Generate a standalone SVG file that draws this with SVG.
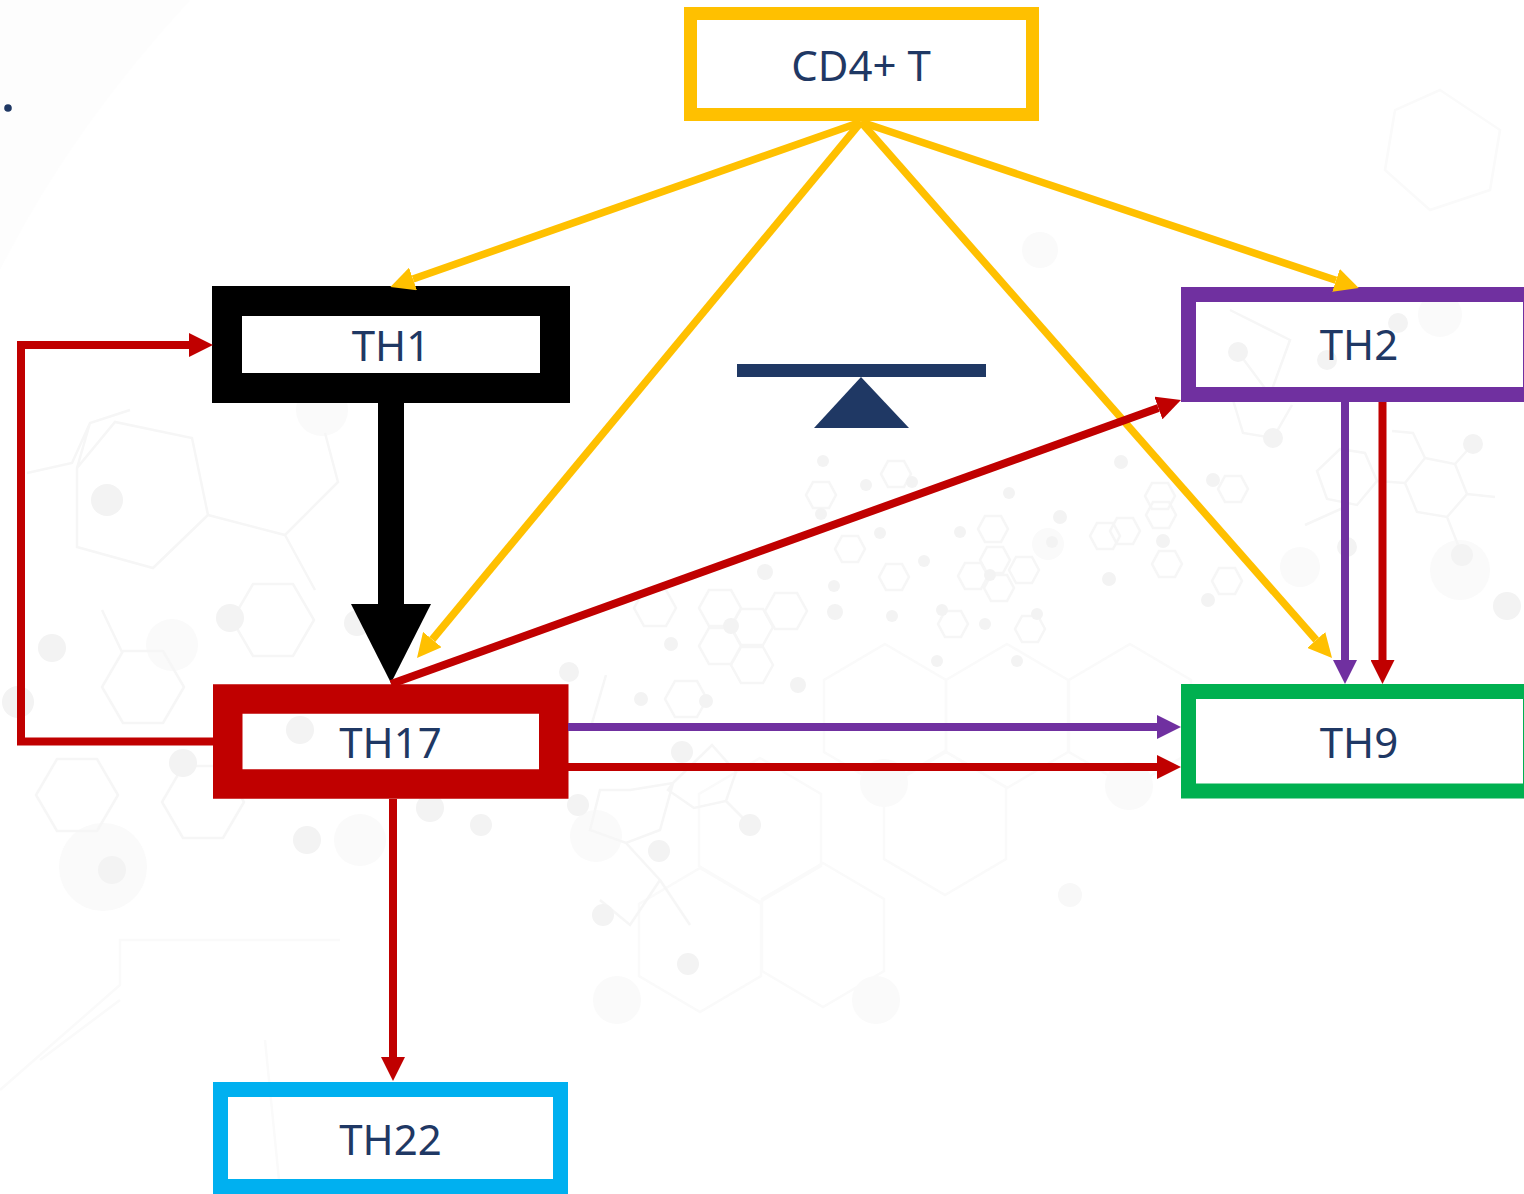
<svg xmlns="http://www.w3.org/2000/svg" width="1524" height="1194" viewBox="0 0 1524 1194">
<style>
.wl{fill:none;stroke:#f6f6f6;stroke-width:2.5}
.wf{fill:none;stroke:#fafafa;stroke-width:2.5}
.wc{fill:#f3f3f3}
.wb{fill:#fafafa}
.box{fill:none}
.t{font-family:"Noto Sans","Open Sans",sans-serif;font-size:42px;fill:#1F3864;text-anchor:middle}
.c{fill:none;stroke-width:8}
.y{stroke:#FFC000;stroke-width:7.500;marker-end:url(#hy)}
.r{stroke:#C00000;marker-end:url(#hr)}
.p{stroke:#7030A0;marker-end:url(#hp)}
</style>
<defs>
<polygon id="hexL" points="41,0 20,36 -20,36 -41,0 -20,-36 20,-36"/>
<polygon id="hexM" points="21,0 11,18 -11,18 -21,0 -11,-18 11,-18"/>
<polygon id="hexS" points="15,0 8,13 -8,13 -15,0 -8,-13 8,-13"/>
<polygon id="hexB" points="0,-72 61,-36 61,36 0,72 -61,36 -61,-36"/>
<marker id="hy" markerUnits="userSpaceOnUse" markerWidth="24" markerHeight="24" refX="0" refY="12" orient="auto"><path d="M0,0L24,12L0,24z" fill="#FFC000"/></marker>
<marker id="hr" markerUnits="userSpaceOnUse" markerWidth="24" markerHeight="24" refX="0" refY="12" orient="auto"><path d="M0,0L24,12L0,24z" fill="#C00000"/></marker>
<marker id="hp" markerUnits="userSpaceOnUse" markerWidth="24" markerHeight="24" refX="0" refY="12" orient="auto"><path d="M0,0L24,12L0,24z" fill="#7030A0"/></marker>
<marker id="hk" markerUnits="userSpaceOnUse" markerWidth="80" markerHeight="80" refX="0" refY="40" orient="auto"><path d="M0,0L79,40L0,80z" fill="#000"/></marker>
</defs>
<rect width="1524" height="1194" fill="#fff"/>
<g id="watermark">
<path d="M0,0H190Q70,130 0,270z" fill="#fdfdfd"/>
<g class="wb">
<circle cx="103" cy="867" r="44"/><circle cx="172" cy="645" r="26"/><circle cx="360" cy="840" r="26"/><circle cx="322" cy="410" r="26"/><circle cx="596" cy="836" r="26"/><circle cx="884" cy="783" r="24"/><circle cx="1129" cy="786" r="24"/><circle cx="617" cy="1000" r="24"/><circle cx="876" cy="1000" r="24"/><circle cx="1048" cy="544" r="16"/><circle cx="1300" cy="567" r="20"/><circle cx="1460" cy="570" r="30"/><circle cx="1040" cy="250" r="18"/><circle cx="1440" cy="315" r="22"/>
</g>
<g class="wf">
<use href="#hexB" x="885" y="716"/><use href="#hexB" x="1007" y="716"/><use href="#hexB" x="945" y="823"/><use href="#hexB" x="760" y="830"/><use href="#hexB" x="823" y="935"/><use href="#hexB" x="700" y="940"/><use href="#hexB" x="1130" y="716"/>
<path d="M0,1090L120,985L120,940L340,940M40,1060L120,1000M265,1040L280,1190M1440,90L1500,130L1490,190L1430,210L1385,170L1395,110z"/>
</g>
<g class="wl">
<use href="#hexL" x="143" y="687"/><use href="#hexL" x="77" y="795"/><use href="#hexL" x="203" y="802"/><use href="#hexL" x="273" y="620"/>
<use href="#hexM" x="720" y="608"/><use href="#hexM" x="752" y="627"/><use href="#hexM" x="786" y="611"/><use href="#hexM" x="720" y="646"/><use href="#hexM" x="752" y="665"/><use href="#hexM" x="655" y="608"/><use href="#hexM" x="686" y="699"/>
<use href="#hexS" x="821" y="495"/><use href="#hexS" x="896" y="474"/><use href="#hexS" x="850" y="549"/><use href="#hexS" x="894" y="577"/><use href="#hexS" x="993" y="529"/><use href="#hexS" x="995" y="560"/><use href="#hexS" x="973" y="576"/><use href="#hexS" x="1024" y="570"/><use href="#hexS" x="999" y="588"/><use href="#hexS" x="953" y="624"/><use href="#hexS" x="1030" y="629"/><use href="#hexS" x="1105" y="536"/><use href="#hexS" x="1161" y="515"/><use href="#hexS" x="1160" y="496"/><use href="#hexS" x="1125" y="531"/><use href="#hexS" x="1167" y="564"/><use href="#hexS" x="1233" y="489"/><use href="#hexS" x="1227" y="581"/>
<path d="M77,547L153,568L208,515L192,438L115,422L77,468zM208,515L285,535L338,482L325,433M27,473L72,463L90,423L130,410M77,468L90,423M102,610L122,652M285,535L315,590"/>
<path d="M673,783L712,745L736,772L726,801L694,808L668,790zM630,790L673,783L660,830L626,843L590,830L600,790zM626,843L660,880L630,925L600,900M660,880L690,925M726,801L750,825M606,675L590,730"/>
<path d="M1425,458L1455,464L1467,494L1447,517L1417,512L1405,483zM1340,449L1365,453L1377,481L1357,505L1327,499L1317,471zM1392,431L1413,433L1425,458M1377,481L1405,483M1467,494L1495,497M1455,464L1473,444M1447,517L1462,555M1345,507L1305,525M1230,310L1290,340L1270,395L1238,352M1233,400L1243,433L1273,438L1292,405"/>
</g>
<g class="wc">
<circle cx="107" cy="500" r="16"/><circle cx="52" cy="648" r="14"/><circle cx="230" cy="618" r="14"/><circle cx="18" cy="702" r="16"/><circle cx="183" cy="763" r="14"/><circle cx="300" cy="730" r="14"/><circle cx="112" cy="870" r="14"/><circle cx="307" cy="840" r="14"/><circle cx="430" cy="808" r="14"/><circle cx="481" cy="825" r="11"/><circle cx="357" cy="623" r="13"/>
<circle cx="569" cy="672" r="10"/><circle cx="641" cy="699" r="7"/><circle cx="706" cy="701" r="7"/><circle cx="798" cy="685" r="8"/><circle cx="835" cy="612" r="8"/><circle cx="765" cy="572" r="8"/><circle cx="731" cy="626" r="8"/><circle cx="671" cy="644" r="7"/><circle cx="682" cy="752" r="11"/><circle cx="750" cy="825" r="11"/><circle cx="659" cy="851" r="11"/><circle cx="578" cy="805" r="11"/><circle cx="603" cy="915" r="11"/><circle cx="688" cy="964" r="11"/>
<circle cx="823" cy="461" r="6"/><circle cx="866" cy="485" r="6"/><circle cx="912" cy="482" r="6"/><circle cx="821" cy="514" r="6"/><circle cx="880" cy="533" r="6"/><circle cx="924" cy="561" r="6"/><circle cx="834" cy="586" r="6"/><circle cx="892" cy="616" r="6"/><circle cx="1009" cy="493" r="6"/><circle cx="960" cy="532" r="6"/><circle cx="990" cy="575" r="6"/><circle cx="942" cy="610" r="6"/><circle cx="985" cy="624" r="6"/><circle cx="1037" cy="614" r="6"/><circle cx="937" cy="661" r="6"/><circle cx="1017" cy="661" r="6"/><circle cx="1052" cy="542" r="6"/><circle cx="1060" cy="517" r="7"/><circle cx="1121" cy="462" r="7"/><circle cx="1163" cy="541" r="7"/><circle cx="1109" cy="579" r="7"/><circle cx="1208" cy="600" r="7"/><circle cx="1213" cy="480" r="7"/>
<circle cx="1473" cy="444" r="10"/><circle cx="1462" cy="555" r="11"/><circle cx="1507" cy="606" r="14"/><circle cx="1398" cy="323" r="10"/><circle cx="1238" cy="352" r="10"/><circle cx="1327" cy="360" r="10"/><circle cx="1273" cy="438" r="10"/><circle cx="1347" cy="547" r="10"/><circle cx="1070" cy="895" r="12" fill="#f8f8f8"/>
</g>
</g>
<circle id="stray-dot" cx="8" cy="108" r="3.800" fill="#1F3864"/>
<g id="balance"><rect x="737" y="364" width="249" height="13" fill="#1F3864"/><polygon points="861,377 814,428 909,428" fill="#1F3864"/></g>
<g id="node-cd4"><rect class="box" x="690.5" y="13.5" width="342" height="101" stroke="#FFC000" stroke-width="13"/><text class="t" x="861" y="81">CD4+ T</text></g>
<g id="node-th1"><rect class="box" x="227" y="301" width="328" height="87" stroke="#000" stroke-width="30"/><text class="t" x="391" y="361">TH1</text></g>
<g id="node-th2"><rect class="box" x="1188.5" y="294.5" width="342" height="100" stroke="#7030A0" stroke-width="15"/><text class="t" x="1359" y="360">TH2</text></g>
<g id="node-th17"><rect class="box" x="227.75" y="699" width="326" height="85" stroke="#C00000" stroke-width="29.5"/><text class="t" x="390.500" y="758">TH17</text></g>
<g id="node-th9"><rect class="box" x="1188.5" y="691.5" width="342" height="99.5" stroke="#00B050" stroke-width="15"/><text class="t" x="1359" y="758">TH9</text></g>
<g id="node-th22"><rect class="box" x="220.5" y="1089.5" width="340" height="97" stroke="#00B0F0" stroke-width="15"/><text class="t" x="390.500" y="1155">TH22</text></g>
<g id="connectors">
<path class="c y" d="M861,122L413,279"/>
<path class="c y" d="M861,122L1336,280.3"/>
<path class="c y" d="M861,122L432.3,639.5"/>
<path class="c y" d="M861,122L1316.2,640"/>
<path d="M391,403V604" fill="none" stroke="#000" stroke-width="26" marker-end="url(#hk)"/>
<path class="c r" d="M391,684L1158.4,408"/>
<path class="c r" style="stroke-width:8" d="M213,741.500H21V345H189"/>
<path class="c p" d="M1345,402V660"/>
<path class="c r" d="M1382.5,402V660"/>
<path class="c p" d="M568,727H1157"/>
<path class="c r" d="M568,767H1157"/>
<path class="c r" d="M393,799V1057"/>
</g>
</svg>
